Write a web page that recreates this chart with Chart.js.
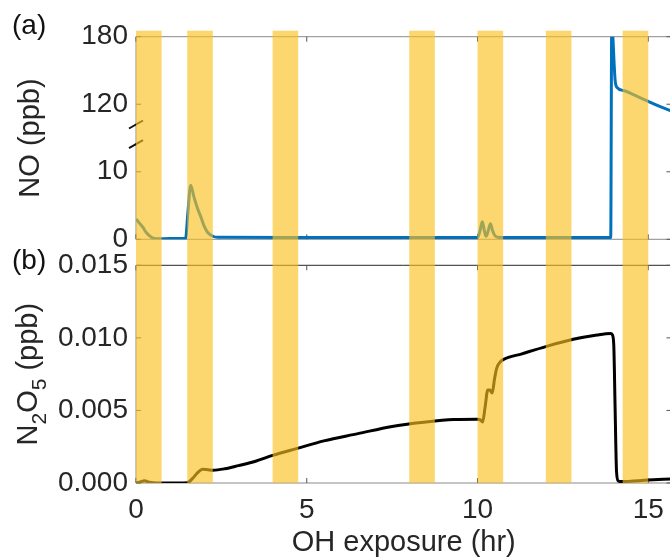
<!DOCTYPE html>
<html>
<head>
<meta charset="utf-8">
<title>NO and N2O5 vs OH exposure</title>
<script src="https://cdn.jsdelivr.net/npm/chart.js@4.4.1/dist/chart.umd.min.js"></script>
<style>
    html, body { margin: 0; padding: 0; overflow: hidden; background: #fff; }
    #wrap { position: relative; width: 670px; height: 558px; overflow: hidden; }
    canvas { position: absolute; left: 0; top: 0; }
</style>
</head>
<body>
<div id="wrap">
    <canvas id="chartNO" width="680" height="570"></canvas>
    <canvas id="chartN2O5" width="680" height="570"></canvas>
</div>
<script>
// panel (a): NO (ppb) against OH exposure (hr)
const noHours = [0, 0.1, 0.2, 0.3, 0.45, 0.6, 1.0, 1.45, 1.52, 1.6, 1.7, 1.8, 1.9, 2.0, 2.1, 2.25, 2.4,
    5, 8, 10.0, 10.07, 10.14, 10.2, 10.25, 10.31, 10.38, 10.44, 10.5, 10.6, 10.75, 12, 13.9,
    13.93, 14.03, 14.08, 14.3, 14.6, 15.0, 15.3, 15.68];
const noPpb = [3.0, 2.4, 1.8, 1.0, 0.3, 0.08, 0.1, 0.1, 4.0, 8.0, 6.2, 4.6, 3.3, 1.9, 1.0, 0.45, 0.3,
    0.25, 0.25, 0.25, 1.2, 2.6, 1.3, 0.45, 1.2, 2.3, 1.3, 0.6, 0.3, 0.25, 0.25, 0.25,
    190, 141, 135, 132, 128, 122.5, 118.5, 114];

// panel (b): N2O5 (ppb) against OH exposure (hr)
const n2o5Hours = [0, 0.1, 0.25, 0.4, 0.6, 1.0, 1.5, 1.65, 1.8, 1.95, 2.1, 2.25, 2.6, 3.0, 3.5, 4.0,
    4.75, 5.5, 6.5, 7.5, 8.5, 9.3, 10.0, 10.08, 10.15, 10.22, 10.3, 10.36, 10.43, 10.5, 10.56,
    10.65, 10.75, 11.3, 12.0, 12.8, 13.5, 13.9, 13.95, 13.99, 14.03, 14.07, 14.12, 14.2, 15.0, 15.68];
const n2o5Ppb = [0, 0.00005, 0.00015, 0.00005, 0, 0, 0.00002, 0.0003, 0.0007, 0.00095, 0.00092, 0.00088,
    0.00098, 0.0012, 0.0015, 0.0019, 0.0024, 0.0029, 0.0034, 0.0039, 0.0042, 0.00437, 0.0044,
    0.00435, 0.0042, 0.0052, 0.0064, 0.0064, 0.0062, 0.0072, 0.0079, 0.0083, 0.0085, 0.0089,
    0.0094, 0.0099, 0.0102, 0.0103, 0.0102, 0.0095, 0.005, 0.0008, 0.00015, 0.0001, 0.0002, 0.00028];

// lights-on periods (hr)
const lampStart = [0, 1.5, 4, 8, 10, 12, 14.25];
const lampEnd = [0.75, 2.25, 4.75, 8.75, 10.75, 12.75, 15];

const hourTicks = [0, 5, 10, 15];
const noTicks = [0, 10, 120, 180];
const n2o5Ticks = [0, 0.005, 0.010, 0.015];
const breakMarks = [14.1, 17.0];

// broken NO axis: 0-10 drawn as is, 120-180 squeezed 6:1 above the break
function brokenAxis(v) {
    return v < 15 ? v : 20 + (v - 120) / 6;
}

Chart.defaults.font.family = "'Liberation Sans', Arial, Helvetica, sans-serif";
Chart.defaults.color = '#262626';

const framePlugin = {
    id: 'frame',
    beforeDatasetsDraw(chart, args, opts) {
        const { ctx, chartArea: a, scales: { x, y } } = chart;
        ctx.save();
        ctx.lineWidth = 1;
        const side = (color, x1, y1, x2, y2) => {
            ctx.strokeStyle = color;
            ctx.beginPath();
            ctx.moveTo(x1, y1);
            ctx.lineTo(x2, y2);
            ctx.stroke();
        };
        side(opts.top, a.left, a.top, a.right, a.top);
        side(opts.edge, a.left, a.bottom, a.right, a.bottom);
        side(opts.edge, a.left, a.top, a.left, a.bottom);
        side(opts.edge, a.right, a.top, a.right, a.bottom);

        ctx.strokeStyle = opts.tick;
        ctx.beginPath();
        x.ticks.forEach(t => {
            const px = x.getPixelForValue(t.value);
            ctx.moveTo(px, a.bottom);
            ctx.lineTo(px, a.bottom - 5);
            ctx.moveTo(px, a.top);
            ctx.lineTo(px, a.top + 5);
        });
        y.ticks.forEach(t => {
            const py = y.getPixelForValue(t.value);
            ctx.moveTo(a.left, py);
            ctx.lineTo(a.left + 5, py);
            ctx.moveTo(a.right, py);
            ctx.lineTo(a.right - 5, py);
        });
        ctx.stroke();
        ctx.restore();
    }
};

const panelA = {
    id: 'panelA',
    afterDraw(chart) {
        const { ctx, chartArea: a, scales: { y } } = chart;
        ctx.save();
        ctx.font = "28px 'Liberation Sans', Arial, sans-serif";
        ctx.fillStyle = '#111';
        ctx.textBaseline = 'middle';
        ctx.fillText('(a)', 12, 26);

        // axis break marks
        ctx.strokeStyle = '#111';
        ctx.lineWidth = 2;
        breakMarks.forEach(v => {
            const py = y.getPixelForValue(v);
            ctx.beginPath();
            ctx.moveTo(a.left - 7, py + 4);
            ctx.lineTo(a.left + 7, py - 4);
            ctx.stroke();
        });
        ctx.restore();
    }
};

const chartNO = new Chart(document.getElementById('chartNO'), {
    type: 'line',
    data: {
        datasets: [{
            data: noHours.map((h, i) => ({ x: h, y: brokenAxis(noPpb[i]) })),
            borderColor: '#0072BD',
            borderWidth: 3,
            pointRadius: 0,
            cubicInterpolationMode: 'monotone'
        }]
    },
    options: {
        responsive: false,
        animation: false,
        layout: { padding: { left: 0, top: 36.7, right: 8.5, bottom: 330.7 } },
        plugins: {
            legend: { display: false },
            tooltip: { enabled: false },
            frame: { top: '#8a8a8a', edge: '#8a8a8a', tick: '#555' }
        },
        scales: {
            x: {
                type: 'linear',
                min: 0,
                max: 15.68,
                grid: { display: false, drawTicks: false },
                border: { display: false },
                ticks: { display: false },
                afterBuildTicks: s => { s.ticks = hourTicks.map(v => ({ value: v })); },
                afterFit: s => { s.height = 0; }
            },
            y: {
                min: 0,
                max: 30,
                grid: { display: false, drawTicks: false },
                border: { display: false },
                ticks: {
                    font: { size: 28 },
                    padding: 8,
                    callback: (v, i) => String(noTicks[i])
                },
                afterBuildTicks: s => { s.ticks = noTicks.map(v => ({ value: brokenAxis(v) })); },
                afterFit: s => { s.width = 136; },
                title: {
                    display: true,
                    text: 'NO (ppb)',
                    font: { size: 29 },
                    padding: { top: 13.4, bottom: 0 }
                }
            }
        }
    },
    plugins: [framePlugin, panelA]
});

const panelB = {
    id: 'panelB',
    afterDatasetsDraw(chart) {
        const { ctx, chartArea: a, scales: { x } } = chart;
        const top = chartNO.chartArea.top - 6;
        ctx.save();
        ctx.fillStyle = 'rgba(251, 193, 32, 0.64)';
        lampStart.forEach((s, i) => {
            const x0 = x.getPixelForValue(s);
            const x1 = x.getPixelForValue(lampEnd[i]);
            ctx.fillRect(x0, top, x1 - x0, a.bottom - top);
        });
        ctx.restore();
    },
    afterDraw(chart) {
        const { ctx, chartArea: a } = chart;
        ctx.save();
        ctx.fillStyle = '#111';
        ctx.font = "28px 'Liberation Sans', Arial, sans-serif";
        ctx.textBaseline = 'middle';
        ctx.fillText('(b)', 12, 261);

        // y title with subscripts
        const parts = [['N', false], ['2', true], ['O', false], ['5', true], [' (ppb)', false]];
        const big = "29px 'Liberation Sans', Arial, sans-serif";
        const small = "21px 'Liberation Sans', Arial, sans-serif";
        let total = 0;
        parts.forEach(([t, sub]) => { ctx.font = sub ? small : big; total += ctx.measureText(t).width; });
        ctx.translate(36.7, (a.top + a.bottom) / 2);
        ctx.rotate(-Math.PI / 2);
        ctx.textBaseline = 'alphabetic';
        ctx.fillStyle = '#262626';
        let cx = -total / 2;
        parts.forEach(([t, sub]) => {
            ctx.font = sub ? small : big;
            ctx.fillText(t, cx, sub ? 9 : 0);
            cx += ctx.measureText(t).width;
        });
        ctx.restore();
    }
};

new Chart(document.getElementById('chartN2O5'), {
    type: 'line',
    data: {
        datasets: [{
            data: n2o5Hours.map((h, i) => ({ x: h, y: n2o5Ppb[i] })),
            borderColor: '#000',
            borderWidth: 3,
            pointRadius: 0,
            cubicInterpolationMode: 'monotone'
        }]
    },
    options: {
        responsive: false,
        animation: false,
        layout: { padding: { left: 0, top: 265.3, right: 8.5, bottom: 9.6 } },
        plugins: {
            legend: { display: false },
            tooltip: { enabled: false },
            frame: { top: '#262626', edge: '#8a8a8a', tick: '#555' }
        },
        scales: {
            x: {
                type: 'linear',
                min: 0,
                max: 15.68,
                grid: { display: false, drawTicks: false },
                border: { display: false },
                ticks: {
                    font: { size: 28 },
                    padding: 10,
                    maxRotation: 0,
                    callback: (v, i) => String(hourTicks[i])
                },
                afterBuildTicks: s => { s.ticks = hourTicks.map(v => ({ value: v })); },
                afterFit: s => { s.height = 77.4; },
                title: {
                    display: true,
                    text: 'OH exposure (hr)',
                    font: { size: 29 },
                    padding: { top: 0, bottom: 0 }
                }
            },
            y: {
                min: 0,
                max: 0.015,
                grid: { display: false, drawTicks: false },
                border: { display: false },
                ticks: {
                    font: { size: 28 },
                    padding: 8,
                    callback: (v, i) => n2o5Ticks[i].toFixed(3)
                },
                afterBuildTicks: s => { s.ticks = n2o5Ticks.map(v => ({ value: v })); },
                afterFit: s => { s.width = 136; }
            }
        }
    },
    plugins: [framePlugin, panelB]
});
</script>
</body>
</html>
